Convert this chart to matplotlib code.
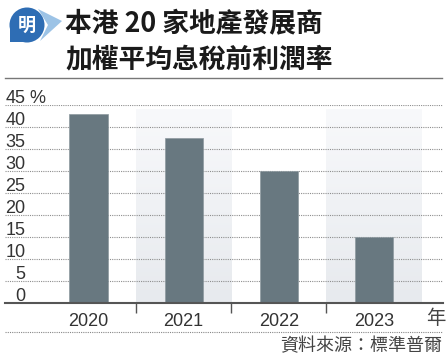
import numpy as np
import matplotlib
matplotlib.use("Agg")
import matplotlib.pyplot as plt
from matplotlib.patches import Circle, Polygon
from matplotlib.lines import Line2D
from matplotlib.colors import LinearSegmentedColormap
import matplotlib.transforms as mtransforms

plt.rcParams["font.family"] = ["Noto Sans CJK TC", "DejaVu Sans"]

# data
years = ["2020", "2021", "2022", "2023"]
margin = [42.9, 37.4, 30.1, 15.1]
y_ticks = [0, 5, 10, 15, 20, 25, 30, 35, 40, 45]
title_1 = "本港 20 家地產發展商"
title_2 = "加權平均息稅前利潤率"
source = "資料來源：標準普爾"

W, H = 448, 360
fig = plt.figure(figsize=(W / 100, H / 100), dpi=100)


def fx(x):
    return x / W


def fy(y):
    return 1 - y / H


# pixel transform with origin top-left, for the logo shapes
px = mtransforms.Affine2D().scale(1 / W, -1 / H).translate(0, 1) + fig.transFigure

# --- header: logo, title, rule ---------------------------------------------
tail = Polygon([[38, 9], [62, 21], [40, 41], [48, 25]], closed=True,
               transform=px, facecolor="#9cc3e6", edgecolor="none")
fig.patches.append(tail)
bubble = Circle((27, 25), 17.5, transform=px, facecolor="#2e6db4",
                edgecolor="none")
fig.patches.append(bubble)
corner = Polygon([[10, 25], [10, 42], [27, 42]], closed=True, transform=px,
                 facecolor="#2e6db4", edgecolor="none")
fig.patches.append(corner)
fig.text(fx(27), fy(25), "明", color="white", fontsize=13, fontweight="bold",
         ha="center", va="center", style="italic")

fig.text(fx(65), fy(24), title_1, fontsize=19.3, fontweight="bold",
         color="#1a1a1a", ha="left", va="center")
fig.text(fx(65), fy(59), title_2, fontsize=19.3, fontweight="bold",
         color="#1a1a1a", ha="left", va="center")
fig.add_artist(Line2D([fx(5), fx(442)], [fy(77.5), fy(77.5)],
                      color="#777777", lw=1.0, transform=fig.transFigure))

# --- chart -----------------------------------------------------------------
ax = fig.add_axes([fx(5), fy(303), fx(438), (303 - 105) / H])
x = np.arange(len(years))
ax.set_xlim(-0.877, 3.725)
ax.set_ylim(0, 45)

# alternating shaded columns (vertical gradient)
band_cmap = LinearSegmentedColormap.from_list("band", ["#e7eaee", "#f8f9fb"])
grad = np.linspace(0, 1, 100).reshape(-1, 1)
for i in x:
    if i % 2 == 1:
        ax.imshow(grad, cmap=band_cmap, origin="lower", aspect="auto",
                  extent=(i - 0.5, i + 0.5, 0, 43.9), zorder=0)

for v in y_ticks[1:]:
    ax.axhline(v, color="#8e8e8e", lw=0.8, ls=(0, (1, 1)), zorder=1)

ax.bar(x, margin, width=0.4, color="#687880", edgecolor="#8d999f",
       linewidth=0.5, zorder=2)

ax.axhline(0, color="#555555", lw=1.5, zorder=3, clip_on=False)

for s in ax.spines.values():
    s.set_visible(False)
ax.set_yticks([])
ax.set_xticks(x[:-1] + 0.5)
ax.set_xticklabels([])
ax.tick_params(axis="x", which="major", length=7, width=1, color="#555555",
               direction="out")
ax.set_xticks(x, minor=True)
ax.set_xticklabels(years, minor=True, fontsize=13, color="#333333",
                   family=["Liberation Sans", "DejaVu Sans"])
ax.tick_params(axis="x", which="minor", length=0, pad=7)

lab_tr = mtransforms.blended_transform_factory(fig.transFigure, ax.transData)
for v in y_ticks:
    ax.text(fx(25.5), v + 0.5, str(v), transform=lab_tr, ha="right",
            va="baseline", fontsize=13, color="#333333",
            family=["Liberation Sans", "DejaVu Sans"], clip_on=False)
ax.text(fx(29), y_ticks[-1] + 0.5, "%", transform=lab_tr, ha="left",
        va="baseline", fontsize=13, color="#333333",
        family=["Liberation Sans", "DejaVu Sans"], clip_on=False)

fig.text(fx(436), fy(319), "年", fontsize=14, color="#444444",
         ha="center", va="center")

# --- footer ----------------------------------------------------------------
fig.add_artist(Line2D([fx(5), fx(442)], [fy(332), fy(332)], color="#888888",
                      lw=0.8, ls=(0, (1, 1)), transform=fig.transFigure))
fig.text(fx(442), fy(346), source, fontsize=13, color="#444444",
         ha="right", va="center")

fig.savefig("out.png", dpi=100, facecolor="white")
